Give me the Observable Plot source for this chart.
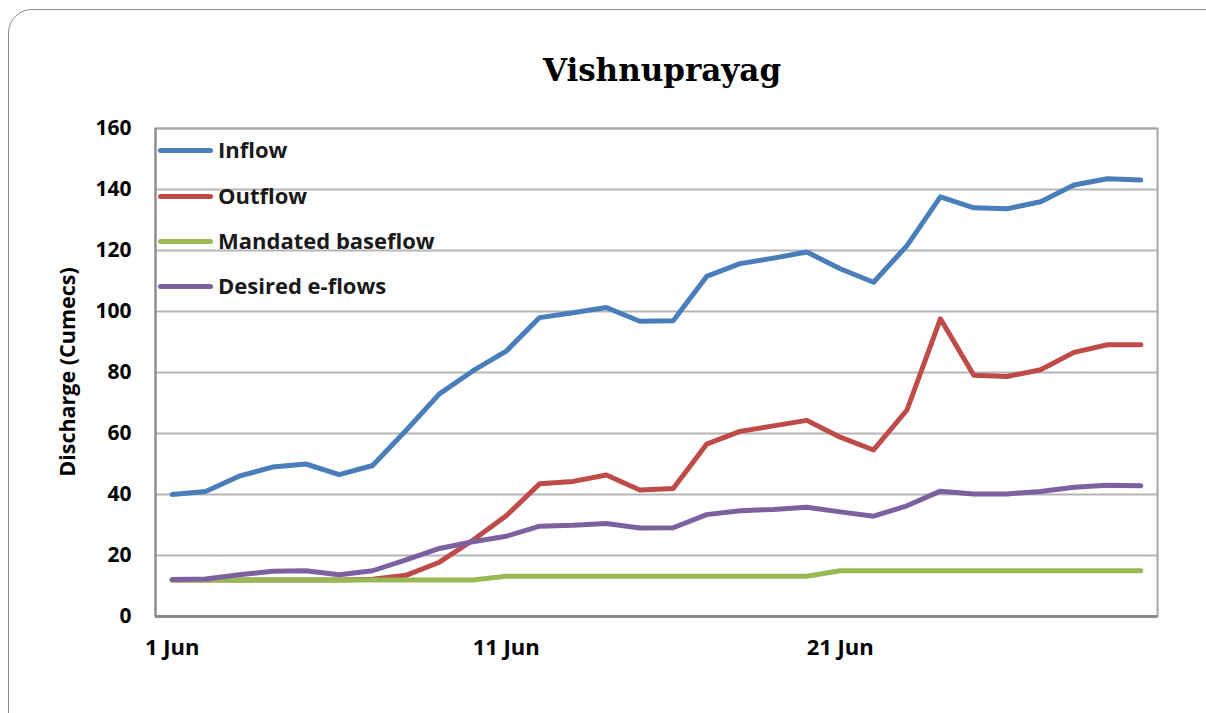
<!DOCTYPE html>
<html>
<head>
<meta charset="utf-8">
<script src="https://cdn.jsdelivr.net/npm/d3@7"></script>
<script src="https://cdn.jsdelivr.net/npm/@observablehq/plot@0.6"></script>
<style>
  html, body { margin: 0; padding: 0; background: #fff; overflow: hidden; }
  body { width: 1206px; height: 713px; position: relative; font-family: "Open Sans", Lato, sans-serif; }
  #frame { position: absolute; left: 8px; top: 9px; width: 1230px; height: 740px; border: 1.5px solid #8c8c8c; border-radius: 24px; box-sizing: border-box; }
  #title { position: absolute; left: 662px; top: 70px; transform: translate(-50%, -50%); font-family: "DejaVu Serif", "Liberation Serif", serif; font-weight: bold; font-size: 31px; color: #000; white-space: nowrap; }
  #ylabel { position: absolute; left: 66px; top: 372px; transform: translate(-50%, -50%) rotate(-90deg); font-weight: bold; font-size: 21.5px; color: #000; white-space: nowrap; }
  #chart { position: absolute; left: 0; top: 100px; }
  .leg { position: absolute; left: 158px; height: 0; }
  .leg .sw { position: absolute; left: 0; top: -2.5px; width: 55px; height: 5px; border-radius: 3px; }
  .leg .lb { position: absolute; left: 60px; top: 0; transform: translateY(-53%); font-weight: bold; font-size: 22px; color: #1a1a1a; white-space: nowrap; }
</style>
</head>
<body>
<div id="frame"></div>
<div id="title">Vishnuprayag</div>
<div id="ylabel">Discharge (Cumecs)</div>
<div id="chart"></div>
<div id="legend"></div>
<script>
// ---- Data ----
const days = [1,2,3,4,5,6,7,8,9,10,11,12,13,14,15,16,17,18,19,20,21,22,23,24,25,26,27,28,29,30];
const seriesNames = ["Inflow", "Outflow", "Mandated baseflow", "Desired e-flows"];
const seriesColors = ["#4a7ebb", "#be4b48", "#98b954", "#7d60a0"];
const inflow   = [40,41,46,49,50,46.5,49.5,61,73,80.5,87,98,99.6,101.3,96.8,97,111.5,115.7,117.5,119.5,114,109.6,121.6,137.6,134,133.7,136,141.5,143.5,143.1];
const outflow  = [12,12,12,12,12,12,12.2,13.5,17.8,25,33,43.5,44.3,46.4,41.5,42,56.5,60.7,62.5,64.3,58.8,54.6,67.7,97.6,79.1,78.7,80.9,86.6,89.1,89.1];
const baseflow = [12,12,12,12,12,12,12,12,12,12,13.2,13.2,13.2,13.2,13.2,13.2,13.2,13.2,13.2,13.2,15,15,15,15,15,15,15,15,15,15];
const eflows   = [12.1,12.3,13.7,14.8,15,13.7,15,18.6,22.3,24.5,26.3,29.6,29.9,30.5,29,29.1,33.4,34.7,35.1,35.8,34.3,32.9,36.3,41.1,40.2,40.2,41,42.4,43,42.9];
const yTicks = [0,20,40,60,80,100,120,140,160];
const xTickDays = [1, 11, 21];
const monthLabel = "Jun";
const year = 2013;

// ---- Build table ----
const valuesBySeries = [inflow, outflow, baseflow, eflows];
const rows = [];
seriesNames.forEach((name, i) => {
  days.forEach((d, j) => rows.push({series: name, date: new Date(Date.UTC(year, 5, d)), value: valuesBySeries[i][j]}));
});
const xDomain = [new Date(Date.UTC(year, 5, days[0]) - 12 * 3600e3), new Date(Date.UTC(year, 5, days[days.length - 1]) + 12 * 3600e3)];
const xTicks = xTickDays.map(d => new Date(Date.UTC(year, 5, d)));

const chart = Plot.plot({
  width: 1206,
  height: 613,
  marginLeft: 155,
  marginRight: 49,
  marginTop: 28,
  marginBottom: 97,
  style: {fontFamily: "'Open Sans', Lato, sans-serif", fontSize: "21px", fontWeight: "bold", color: "#000", background: "transparent"},
  x: {type: "utc", domain: xDomain},
  y: {domain: [0, 160]},
  color: {domain: seriesNames, range: seriesColors},
  marks: [
    Plot.ruleY(yTicks.filter(t => t > 0), {stroke: "#b5b5b5", strokeWidth: 2}),
    Plot.frame({stroke: "#a8a8a8", strokeWidth: 2}),
    Plot.ruleY([0], {stroke: "#8a8a8a", strokeWidth: 3}),
    Plot.ruleX([xDomain[0]], {stroke: "#8a8a8a", strokeWidth: 2}),
    Plot.axisY({ticks: yTicks, tickSize: 0, tickPadding: 24, label: null, fill: "#000", fontSize: 21}),
    Plot.axisX({ticks: xTicks, tickSize: 0, tickPadding: 23, label: null, fill: "#000", fontSize: 22,
      tickFormat: d => `${d.getUTCDate()} ${monthLabel}`}),
    ...seriesNames.map(name => Plot.line(rows.filter(r => r.series === name), {
      x: "date", y: "value", stroke: "series", strokeWidth: 5,
      strokeLinecap: "round", strokeLinejoin: "round"
    }))
  ]
});
document.getElementById("chart").appendChild(chart);

// ---- Legend (inside plot, top-left) ----
const legend = document.getElementById("legend");
const legendTops = [150, 196, 241, 286];
seriesNames.forEach((name, i) => {
  const item = document.createElement("div");
  item.className = "leg";
  item.style.top = legendTops[i] + "px";
  item.innerHTML = `<div class="sw" style="background:${seriesColors[i]}"></div><div class="lb">${name}</div>`;
  legend.appendChild(item);
});
</script>
</body>
</html>
